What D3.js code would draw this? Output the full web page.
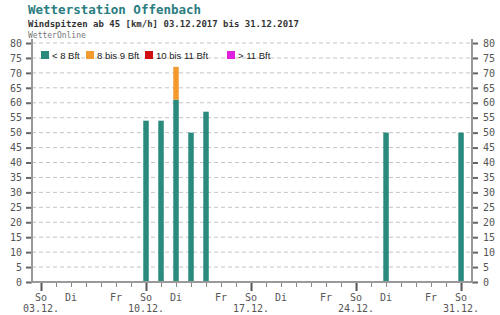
<!DOCTYPE html>
<html><head><meta charset="utf-8">
<script src="https://cdn.jsdelivr.net/npm/d3@7"></script>
<style>body{margin:0;background:#fff}svg{display:block}</style>
</head><body><svg id="c" width="500" height="315"></svg>
<script>
const title = "Wetterstation Offenbach";
const subtitle = "Windspitzen ab 45 [km/h] 03.12.2017 bis 31.12.2017";
const source = "WetterOnline";
const barDays = [10, 11, 12, 13, 14, 26, 31];
const below8 = [54, 54, 61, 50, 57, 50, 50];
const bft8to9 = [0, 0, 11, 0, 0, 0, 0];
const bft10to11 = [0, 0, 0, 0, 0, 0, 0];
const above11 = [0, 0, 0, 0, 0, 0, 0];
const seriesNames = ["< 8 Bft", "8 bis 9 Bft", "10 bis 11 Bft", "> 11 Bft"];
const seriesColors = ["#2b8a7e", "#f29a2e", "#d01010", "#e020e0"];
const yTicks = [0,5,10,15,20,25,30,35,40,45,50,55,60,65,70,75,80];
const dayLabelDays = [3,5,8,10,12,15,17,19,22,24,26,29,31];
const dayLabels = ["So","Di","Fr","So","Di","Fr","So","Di","Fr","So","Di","Fr","So"];
const dateLabelDays = [3,10,17,24,31];
const dateLabels = ["03.12.","10.12.","17.12.","24.12.","31.12."];

const svg = d3.select("#c");
const L = 32, R = 472, T = 43, B = 282;
const x = d3.scaleLinear().domain([2.4, 31.73]).range([L, R]);
const y = d3.scaleLinear().domain([0, 80]).range([B, T]);
const mono = "'DejaVu Sans Mono', monospace";

svg.append("text").attr("x", 28).attr("y", 14).text(title)
  .attr("font-family", mono).attr("font-weight", "bold").attr("font-size", 12.5).attr("fill", "#2a7d80");
svg.append("text").attr("x", 28).attr("y", 27).text(subtitle)
  .attr("font-family", mono).attr("font-weight", "bold").attr("font-size", 9).attr("fill", "#333");
svg.append("text").attr("x", 28).attr("y", 38).text(source)
  .attr("font-family", mono).attr("font-size", 8).attr("fill", "#777");

// grid
svg.append("g").selectAll("line").data(yTicks.filter(v => v > 0)).join("line")
  .attr("x1", L).attr("x2", R).attr("y1", d => y(d)).attr("y2", d => y(d))
  .attr("stroke", "#c4c4c4").attr("stroke-dasharray", "4,3").attr("stroke-width", 1);

// bars (stacked)
const stackData = barDays.map((d, i) => ({day: d, s0: below8[i], s1: bft8to9[i], s2: bft10to11[i], s3: above11[i]}));
const stack = d3.stack().keys(["s0","s1","s2","s3"])(stackData);
const bw = 5.5;
svg.append("g").selectAll("g").data(stack).join("g")
  .attr("fill", (d, i) => seriesColors[i])
  .selectAll("rect").data(d => d.filter(p => p[1] > p[0])).join("rect")
  .attr("x", d => x(d.data.day) - bw / 2).attr("width", bw)
  .attr("y", d => y(d[1])).attr("height", d => y(d[0]) - y(d[1]));

// axes
const leftAxis = d3.axisLeft(y).tickValues(yTicks).tickSize(6).tickPadding(4).tickFormat(d3.format("d"));
const rightAxis = d3.axisRight(y).tickValues(yTicks).tickSize(6).tickPadding(5).tickFormat(d3.format("d"));
function style(g) {
  g.select(".domain").remove();
  g.selectAll(".tick line").attr("stroke", "#666").attr("stroke-width", 2);
  g.selectAll(".tick text").attr("font-family", mono).attr("font-size", 10).attr("fill", "#555");
}
svg.append("g").attr("transform", `translate(${L},0)`).call(leftAxis).call(style);
svg.append("g").attr("transform", `translate(${R},0)`).call(rightAxis).call(style);

// frame
svg.append("path").attr("d", `M${L},${T-4}V${B}H${R}V${T-4}`)
  .attr("fill", "none").attr("stroke", "#999").attr("stroke-width", 2);

// bottom ticks
const allDays = d3.range(3, 32);
const bottom = d3.axisBottom(x).tickValues(allDays).tickSize(4).tickFormat("");
const bg = svg.append("g").attr("transform", `translate(0,${B+1})`).call(bottom);
bg.select(".domain").remove();
bg.selectAll(".tick line").attr("stroke", "#888").attr("stroke-width", 1);
const major = d3.axisBottom(x).tickValues(dateLabelDays).tickSize(8).tickFormat("");
const mg = svg.append("g").attr("transform", `translate(0,${B+1})`).call(major);
mg.select(".domain").remove();
mg.selectAll(".tick line").attr("stroke", "#555").attr("stroke-width", 2);

svg.append("g").selectAll("text").data(dayLabelDays).join("text")
  .attr("x", d => x(d)).attr("y", 301).attr("text-anchor", "middle")
  .attr("font-family", mono).attr("font-size", 10).attr("fill", "#555")
  .text((d, i) => dayLabels[i]);
svg.append("g").selectAll("text").data(dateLabelDays).join("text")
  .attr("x", d => x(d)).attr("y", 312).attr("text-anchor", "middle")
  .attr("font-family", mono).attr("font-size", 10).attr("fill", "#555")
  .text((d, i) => dateLabels[i]);

// legend
const legX = [41, 86, 145, 227];
const lg = svg.append("g").selectAll("g").data(seriesNames).join("g")
  .attr("transform", (d, i) => `translate(${legX[i]},51)`);
lg.append("rect").attr("width", 8).attr("height", 8).attr("fill", (d, i) => seriesColors[i]);
lg.append("text").attr("x", 11).attr("y", 7.5).text(d => d)
  .attr("font-family", "'Liberation Sans', Arial, sans-serif").attr("font-size", 9.5).attr("fill", "#222");
</script></body></html>
